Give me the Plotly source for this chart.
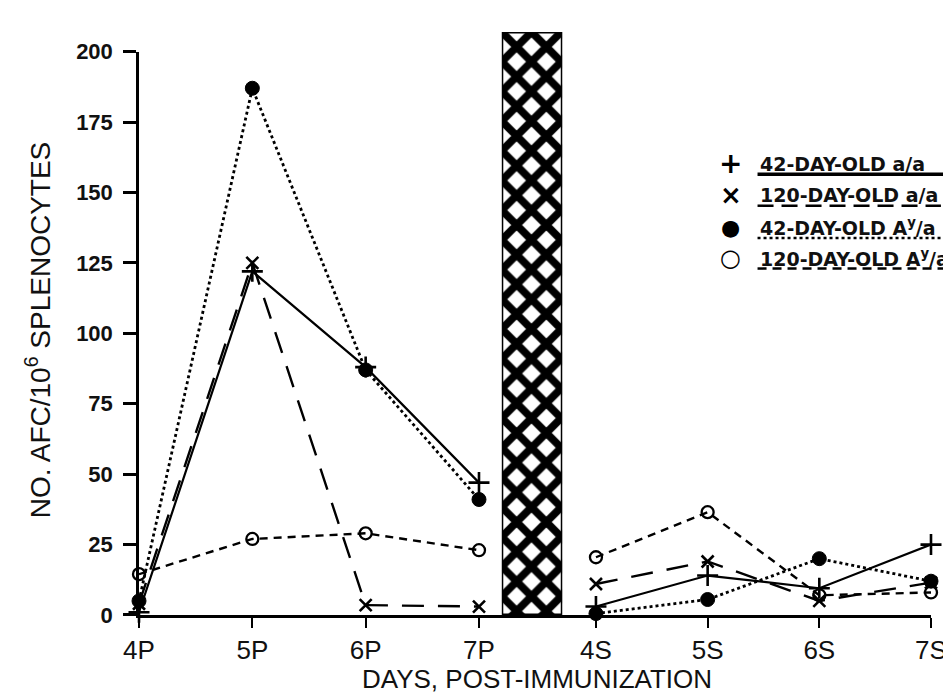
import plotly.graph_objects as go

# ---------------- data ----------------
primary_days = ["4P", "5P", "6P", "7P"]
secondary_days = ["4S", "5S", "6S", "7S"]

a42_primary = [1, 122, 88, 47]          # 42-DAY-OLD a/a
a42_secondary = [3, 14, 9.5, 25]
a120_primary = [4, 125, 3.5, 3]         # 120-DAY-OLD a/a
a120_secondary = [11, 19, 5, 11.5]
ay42_primary = [5, 187, 87, 41]         # 42-DAY-OLD Ay/a
ay42_secondary = [0.5, 5.5, 20, 12]
ay120_primary = [14.5, 27, 29, 23]      # 120-DAY-OLD Ay/a
ay120_secondary = [20.5, 36.5, 7, 8]

y_ticks = [0, 25, 50, 75, 100, 125, 150, 175, 200]
break_bar = [1]

series_names = ["42-DAY-OLD a/a", "120-DAY-OLD a/a",
                "42-DAY-OLD A<sup>y</sup>/a", "120-DAY-OLD A<sup>y</sup>/a"]

# ---------------- geometry (pixels -> paper) ----------------
W, H = 951, 692
L, R, T, B = 131, 21, 13, 85
PW, PH = W - L - R, H - T - B


def px(x):
    return (x - L) / PW


def py(y):
    return (H - B - y) / PH


FONT = "Liberation Sans, Arial, sans-serif"

styles = [
    dict(dash="solid", width=2.2, symbol="cross-thin", size=15, lw=2.6),
    dict(dash="22px,14px", width=2.4, symbol="x-thin", size=12, lw=2.6),
    dict(dash="dot", width=2.8, symbol="circle", size=14, lw=1),
    dict(dash="8px,6px", width=2.4, symbol="circle-open", size=12, lw=2.3),
]

fig = go.Figure()

# hatched break bar
fig.add_trace(go.Bar(
    x=[0], y=break_bar, width=1, xaxis="x3", yaxis="y2",
    marker=dict(color="white", line=dict(color="black", width=3),
                pattern=dict(shape="x", size=21, solidity=0.6,
                             fgcolor="black", bgcolor="white", fgopacity=1,
                             fillmode="replace")),
    showlegend=False, hoverinfo="skip"))

prim = [a42_primary, a120_primary, ay42_primary, ay120_primary]
sec = [a42_secondary, a120_secondary, ay42_secondary, ay120_secondary]
for name, yp, ys, st in zip(series_names, prim, sec, styles):
    for xs, yv, xa in ((primary_days, yp, "x"), (secondary_days, ys, "x2")):
        fig.add_trace(go.Scatter(
            x=xs, y=yv, xaxis=xa, yaxis="y", mode="lines+markers", name=name,
            line=dict(color="black", width=st["width"], dash=st["dash"]),
            marker=dict(symbol=st["symbol"], size=st["size"], color="black",
                        line=dict(color="black", width=st["lw"])),
            cliponaxis=False, showlegend=False))

bar_l, bar_r = px(497), px(558)
ydom_top = py(33)
p_range_end = 3 * (497 - L) / (474 - L)
s_range_start = -(592 - 558) / ((930 - 592) / 3)

axis_common = dict(showline=True, linecolor="black", linewidth=2.5,
                   ticks="outside", ticklen=10, tickwidth=2.2, tickcolor="black",
                   showgrid=False, zeroline=False, ticklabelstandoff=0,
                   tickfont=dict(family=FONT, size=26, color="#111"))

fig.update_layout(
    width=W, height=H,
    margin=dict(l=L, r=R, t=T, b=B, pad=0),
    paper_bgcolor="white", plot_bgcolor="white",
    showlegend=False,
    xaxis=dict(domain=[0, bar_l], type="category", range=[0, p_range_end],
               anchor="y", **axis_common),
    xaxis2=dict(domain=[bar_r, 1], type="category", range=[s_range_start, 3.0],
                anchor="y", **axis_common),
    xaxis3=dict(domain=[bar_l, bar_r], range=[-0.5, 0.5], anchor="y2",
                showline=True, linecolor="black", linewidth=2.5,
                showticklabels=False, ticks="", showgrid=False, zeroline=False),
    yaxis=dict(domain=[0, ydom_top], range=[0, 200], anchor="x",
               tickvals=y_ticks, ticktext=[str(v) for v in y_ticks],
               showline=True, linecolor="black", linewidth=2.5,
               ticks="outside", ticklen=13, tickwidth=2.5, tickcolor="black",
               showgrid=False, zeroline=False, ticklabelstandoff=6,
               tickfont=dict(family=FONT, size=22, color="#111", weight="bold")),
    yaxis2=dict(domain=[0, 1], range=[0, 1], anchor="x3", visible=False),
)

annotations = [
    dict(text="NO. AFC/10<sup>6</sup> SPLENOCYTES", x=px(30), y=py(316),
         xref="paper", yref="paper", textangle=-90, showarrow=False,
         xanchor="center", yanchor="middle",
         font=dict(family=FONT, size=28, color="#111")),
    dict(text="DAYS, POST-IMMUNIZATION", x=px(533), y=py(672),
         xref="paper", yref="paper", showarrow=False,
         xanchor="center", yanchor="middle",
         font=dict(family=FONT, size=26, color="#111")),
]

# custom legend
row_y = [147, 179, 212, 243]
legend_symbols = ["+", "×", "●", "○"]
symbol_sizes = [28, 26, 22, 24]
underline_dash = ["solid", "16px,8px", "dot", "9px,6px"]
underline_end = [945, 940, 940, 951]
shapes = []
for i, name in enumerate(series_names):
    annotations.append(dict(text=legend_symbols[i], x=px(728), y=py(row_y[i]),
                            xref="paper", yref="paper", showarrow=False,
                            xanchor="center", yanchor="middle",
                            font=dict(family="DejaVu Sans", size=symbol_sizes[i],
                                      color="black", weight="bold")))
    annotations.append(dict(text=name, x=px(755), y=py(row_y[i]),
                            xref="paper", yref="paper", showarrow=False,
                            xanchor="left", yanchor="middle",
                            font=dict(family="DejaVu Sans", size=19,
                                      color="#111", weight="bold")))
    shapes.append(dict(type="line", xref="paper", yref="paper",
                       x0=px(755), x1=px(underline_end[i]),
                       y0=py(row_y[i] + 11), y1=py(row_y[i] + 11),
                       line=dict(color="black", width=3.5 if i == 0 else 2.5,
                                 dash=underline_dash[i])))

fig.update_layout(annotations=annotations, shapes=shapes)

fig.write_html("out.html")
